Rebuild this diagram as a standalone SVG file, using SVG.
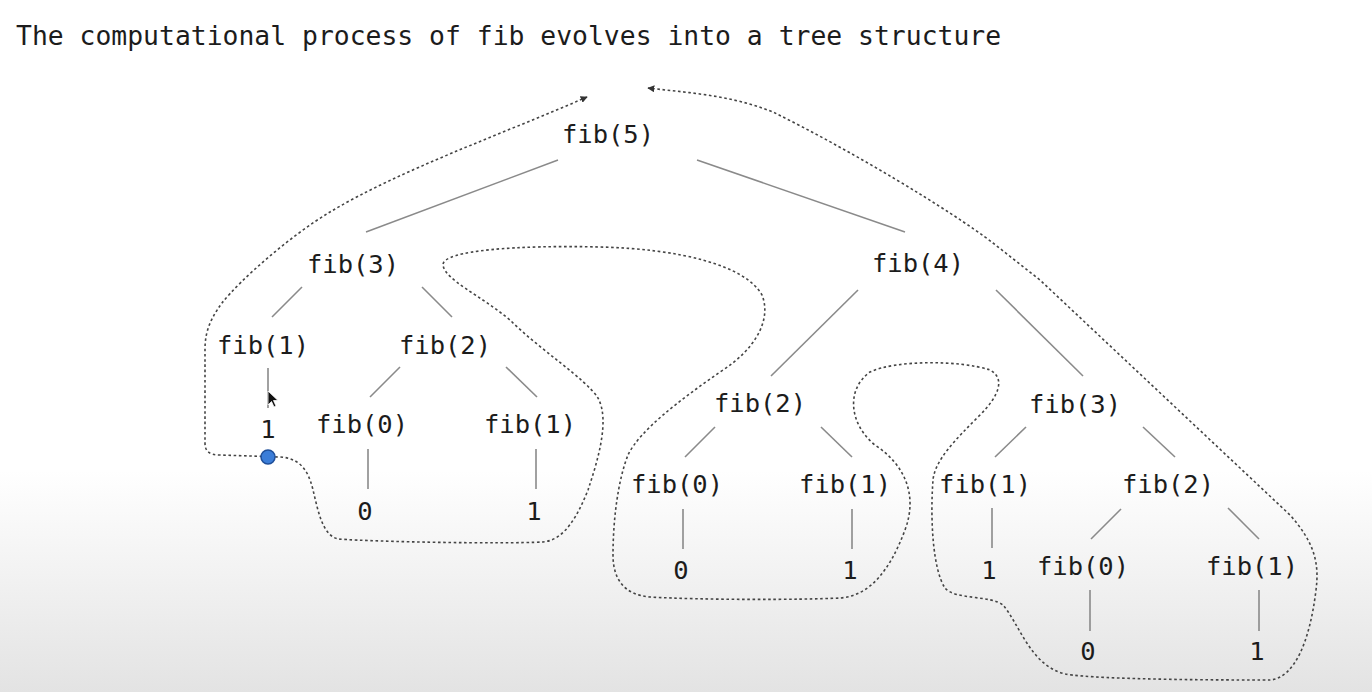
<svg xmlns="http://www.w3.org/2000/svg" width="1372" height="692" viewBox="0 0 1372 692">
<defs>
<linearGradient id="bg" x1="0" y1="0" x2="0" y2="1">
<stop offset="0" stop-color="#ffffff"/>
<stop offset="0.68" stop-color="#ffffff"/>
<stop offset="1" stop-color="#e3e3e3"/>
</linearGradient>
<marker id="ah" viewBox="0 0 10 10" refX="9" refY="5" markerWidth="7" markerHeight="7" markerUnits="userSpaceOnUse" orient="auto-start-reverse">
<path d="M0,0 L10,5 L0,10 z" fill="#333"/>
</marker>
<style>
.t{font-family:"DejaVu Sans Mono","Liberation Mono",monospace;font-size:25.5px;fill:#1c1c1c;text-anchor:middle}
.title{font-family:"DejaVu Sans Mono","Liberation Mono",monospace;font-size:26.4px;fill:#1c1c1c}
.e{stroke:#8a8a8a;stroke-width:1.6;fill:none}
.d{stroke:#444;stroke-width:1.6;fill:none;stroke-dasharray:2.6 2.6}
</style>
</defs>
<rect width="1372" height="692" fill="url(#bg)"/>
<text class="title" x="16" y="45">The computational process of fib evolves into a tree structure</text>

<g id="connectors">
<line class="e" x1="558" y1="160" x2="366" y2="232"/>
<line class="e" x1="697" y1="160" x2="905" y2="232"/>
<line class="e" x1="302" y1="287" x2="272" y2="317"/>
<line class="e" x1="422" y1="287" x2="452" y2="317"/>
<line class="e" x1="268" y1="368" x2="268" y2="408"/>
<line class="e" x1="400" y1="367" x2="370" y2="397"/>
<line class="e" x1="506" y1="367" x2="537" y2="397"/>
<line class="e" x1="368" y1="449" x2="368" y2="489"/>
<line class="e" x1="536" y1="449" x2="536" y2="489"/>
<line class="e" x1="858" y1="290" x2="771" y2="376"/>
<line class="e" x1="996" y1="290" x2="1083" y2="376"/>
<line class="e" x1="715" y1="427" x2="685" y2="457"/>
<line class="e" x1="821" y1="427" x2="852" y2="457"/>
<line class="e" x1="683" y1="509" x2="683" y2="549"/>
<line class="e" x1="852" y1="509" x2="852" y2="549"/>
<line class="e" x1="1026" y1="427" x2="995" y2="457"/>
<line class="e" x1="1143" y1="427" x2="1175" y2="457"/>
<line class="e" x1="992" y1="508" x2="992" y2="548"/>
<line class="e" x1="1121" y1="509" x2="1091" y2="539"/>
<line class="e" x1="1228" y1="508" x2="1259" y2="539"/>
<line class="e" x1="1090" y1="590" x2="1090" y2="631"/>
<line class="e" x1="1259" y1="590" x2="1259" y2="631"/>
<path class="d" marker-start="url(#ah)" marker-end="url(#ah)" d="M 587 97 C 500 135, 400 170, 330 212 C 290 236, 240 280, 222 303 C 208 322, 205 335, 205 350 L 205 443 C 205 452, 210 455, 220 455 L 280 457 C 298 458, 308 468, 313 490 C 318 510, 322 535, 338 539 C 380 542, 500 544, 543 542 C 565 540, 578 515, 588 490 C 598 460, 610 420, 598 398 C 585 378, 540 350, 510 320 C 480 295, 445 280, 443 265 C 442 250, 520 245, 600 247 C 680 249, 745 265, 762 295 C 772 320, 755 350, 720 372 C 680 400, 640 430, 628 455 C 618 480, 613 520, 613 555 C 613 580, 625 595, 650 597 C 700 600, 800 600, 840 598 C 870 596, 890 570, 905 530 C 918 495, 905 465, 875 445 C 850 425, 845 390, 870 372 C 895 360, 960 360, 990 370 C 1005 378, 1000 395, 980 415 C 955 440, 935 460, 933 480 C 930 520, 933 570, 945 588 C 955 600, 990 595, 1003 605 C 1020 625, 1030 665, 1065 674 C 1100 680, 1230 680, 1270 680 C 1295 678, 1310 640, 1316 590 C 1320 560, 1312 540, 1290 515 L 1040 280 L 993 243 C 950 210, 850 150, 773 112 C 730 95, 690 93, 648 88"/>
</g>

<g id="n_fib5"><text class="t" x="608" y="143">fib(5)</text></g>
<g id="n_fib3a"><text class="t" x="353" y="273">fib(3)</text></g>
<g id="n_fib4"><text class="t" x="918" y="272">fib(4)</text></g>
<g id="n_fib1a"><text class="t" x="263" y="354">fib(1)</text></g>
<g id="n_fib2a"><text class="t" x="445" y="354">fib(2)</text></g>
<g id="n_v1a"><text class="t" x="268" y="438">1</text></g>
<g id="n_fib0a"><text class="t" x="362" y="433">fib(0)</text></g>
<g id="n_fib1b"><text class="t" x="530" y="433">fib(1)</text></g>
<g id="n_v0a"><text class="t" x="365" y="520">0</text></g>
<g id="n_v1b"><text class="t" x="534" y="520">1</text></g>
<g id="n_fib2b"><text class="t" x="760" y="412">fib(2)</text></g>
<g id="n_fib3b"><text class="t" x="1075" y="413">fib(3)</text></g>
<g id="n_fib0b"><text class="t" x="677" y="493">fib(0)</text></g>
<g id="n_fib1c"><text class="t" x="845" y="493">fib(1)</text></g>
<g id="n_fib1d"><text class="t" x="985" y="493">fib(1)</text></g>
<g id="n_fib2c"><text class="t" x="1168" y="493">fib(2)</text></g>
<g id="n_v0b"><text class="t" x="681" y="579">0</text></g>
<g id="n_v1c"><text class="t" x="850" y="579">1</text></g>
<g id="n_v1d"><text class="t" x="989" y="579">1</text></g>
<g id="n_fib0c"><text class="t" x="1083" y="575">fib(0)</text></g>
<g id="n_fib1e"><text class="t" x="1252" y="575">fib(1)</text></g>
<g id="n_v0c"><text class="t" x="1088" y="660">0</text></g>
<g id="n_v1e"><text class="t" x="1257" y="660">1</text></g>

<g id="marker_dot"><circle cx="268" cy="457" r="7" fill="#3b7dd8" stroke="#1f4f9a" stroke-width="1.5"/></g>
<g id="cursor"><polygon points="268,391 268,405 271.5,401.5 274,407 276,406 273.5,400.5 278,400.5" fill="#111" stroke="#fff" stroke-width="0.8"/></g>
</svg>
